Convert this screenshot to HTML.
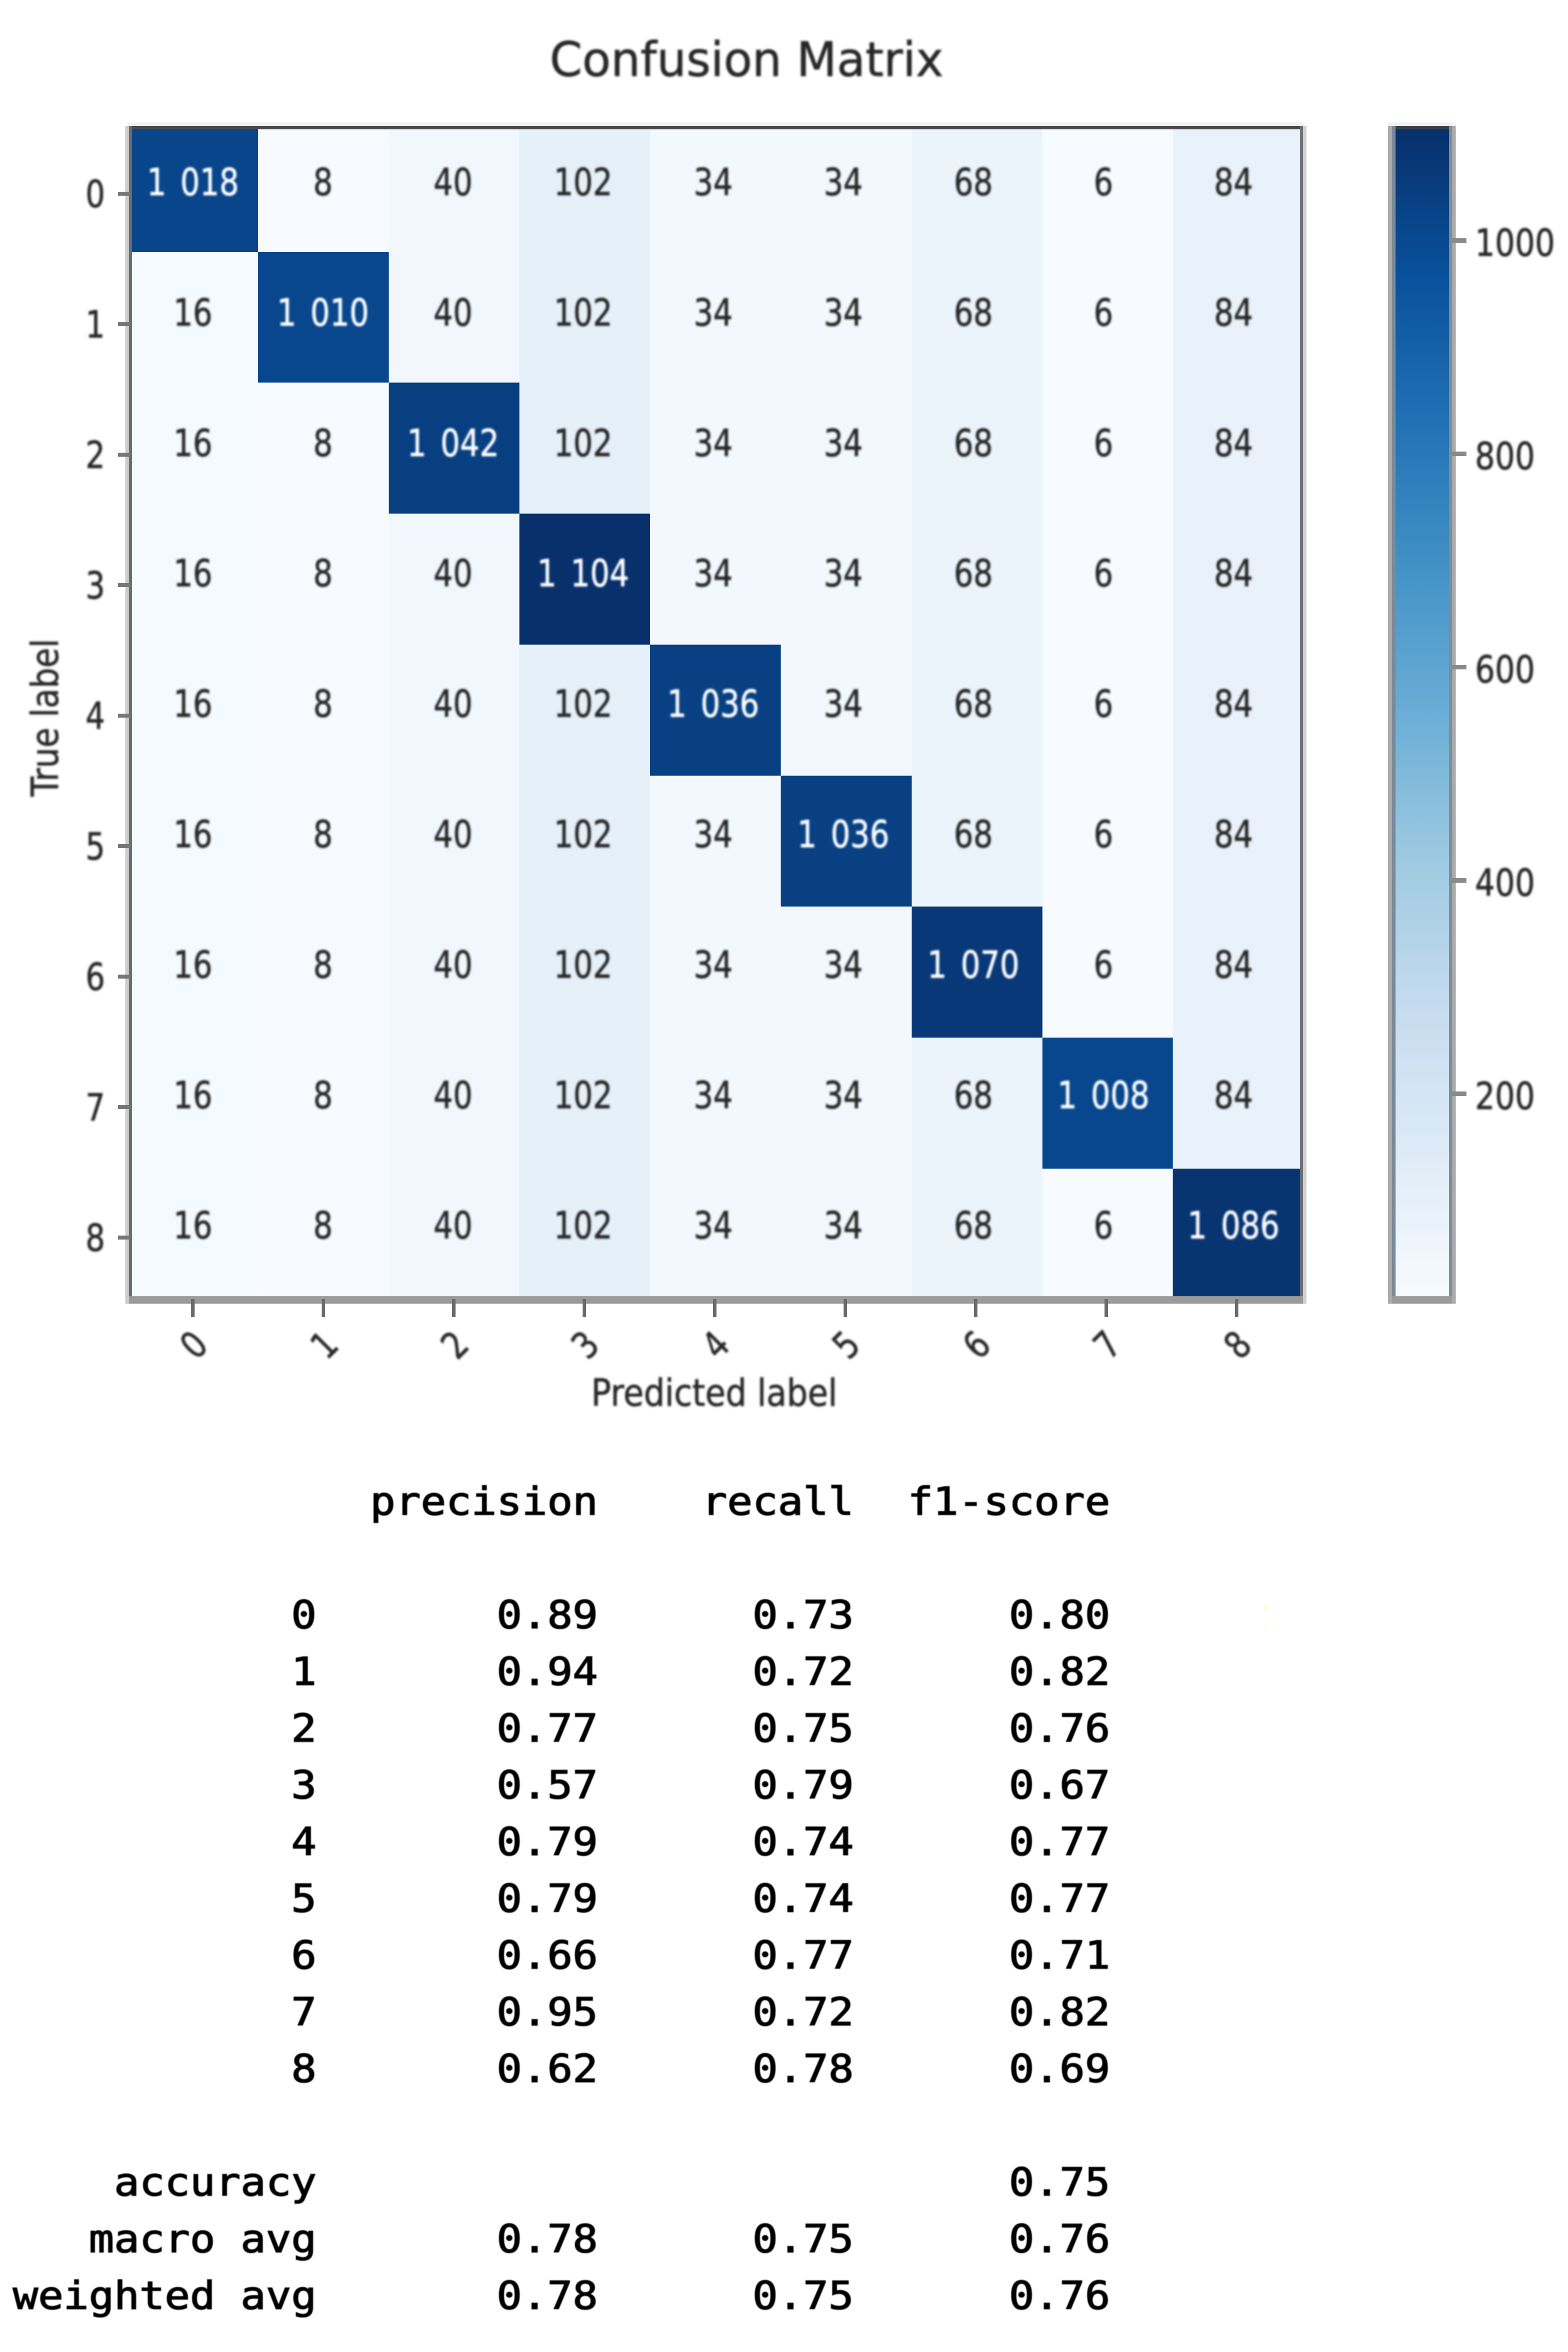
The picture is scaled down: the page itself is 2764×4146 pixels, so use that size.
<!DOCTYPE html>
<html lang="en">
<head>
<meta charset="utf-8">
<title>Confusion Matrix</title>
<style>
  html, body { margin: 0; padding: 0; background: #fff; }
  #figure { display: block; }
  .sans { font-family: "DejaVu Sans", "Liberation Sans", sans-serif; fill: #262626; stroke: #262626; stroke-width: 0.8px; }
  .mono { font-family: "DejaVu Sans Mono", "Liberation Mono", monospace; fill: #000; stroke: #000; stroke-width: 1.6px; }
</style>
</head>
<body>
<svg id="figure" xmlns="http://www.w3.org/2000/svg" width="2764" height="4146" viewBox="0 0 2764 4146">
  <defs>
    <filter id="soft" x="-5%" y="-5%" width="110%" height="110%"><feGaussianBlur stdDeviation="1.9"/></filter>
    <filter id="soft-table" x="-5%" y="-5%" width="110%" height="110%"><feGaussianBlur stdDeviation="0.8"/></filter>
    <clipPath id="plot-clip"><rect x="233" y="228" width="2059" height="2057"/></clipPath>
    <linearGradient id="cbar-gradient" gradientUnits="userSpaceOnUse" x1="0" x2="0" y1="0" y2="0"></linearGradient>
  </defs>
  <rect x="0" y="0" width="2764" height="4146" fill="#ffffff"/>
  <g id="cells" clip-path="url(#plot-clip)" shape-rendering="crispEdges"></g>

  <g id="spines" shape-rendering="crispEdges">
    <rect x="226" y="216" width="2072" height="6" fill="#f0f0f0"/>
    <rect x="227" y="222" width="2070" height="6" fill="#4a4a4a"/>
    <rect x="221" y="222" width="6" height="2076" fill="#cccccc"/>
    <rect x="227" y="222" width="6" height="2070" fill="#6a6a70"/>
    <rect x="2292" y="222" width="5" height="2070" fill="#6c7074"/>
    <rect x="2297" y="222" width="6" height="2076" fill="#cfcfcf"/>
    <rect x="227" y="2285" width="2070" height="13" fill="#9b9b9b"/>
  </g>

  <g id="ticks" shape-rendering="crispEdges"></g>

  <g id="cbar" shape-rendering="crispEdges">
    <rect x="2460" y="228" width="94" height="2057" fill="url(#cbar-gradient)"/>
    <rect x="2447" y="216" width="119" height="6" fill="#f0f0f0"/>
    <rect x="2454" y="222" width="106" height="6" fill="#3c4048"/>
    <rect x="2447" y="222" width="7" height="2076" fill="#ababab"/>
    <rect x="2454" y="222" width="6" height="2070" fill="#7b8a98"/>
    <rect x="2554" y="222" width="6" height="2070" fill="#808c98"/>
    <rect x="2560" y="222" width="6" height="2076" fill="#ababab"/>
    <rect x="2454" y="2285" width="106" height="13" fill="#9b9b9b"/>
  </g>

  <g id="soft-text" filter="url(#soft)">
    <text class="sans" x="969" y="134" font-size="84" textLength="694" lengthAdjust="spacingAndGlyphs">Confusion Matrix</text>
    <text class="sans" x="1042" y="2478" font-size="66" textLength="434" lengthAdjust="spacingAndGlyphs">Predicted label</text>
    <text class="sans" transform="translate(102,1404) rotate(-90)" x="0" y="0" font-size="66" textLength="278" lengthAdjust="spacingAndGlyphs">True label</text>
  </g>

  <g id="report" filter="url(#soft-table)"></g>

  <rect x="2228" y="2830" width="7" height="7" fill="#ffffc8"/>
  <rect x="2228" y="2867" width="7" height="7" fill="#ffffe6"/>
</svg>

<script>
// ---- confusion matrix values ----
const classLabels = ['0', '1', '2', '3', '4', '5', '6', '7', '8'];
const matrixRow0 = [1018, 8, 40, 102, 34, 34, 68, 6, 84];
const matrixRow1 = [16, 1010, 40, 102, 34, 34, 68, 6, 84];
const matrixRow2 = [16, 8, 1042, 102, 34, 34, 68, 6, 84];
const matrixRow3 = [16, 8, 40, 1104, 34, 34, 68, 6, 84];
const matrixRow4 = [16, 8, 40, 102, 1036, 34, 68, 6, 84];
const matrixRow5 = [16, 8, 40, 102, 34, 1036, 68, 6, 84];
const matrixRow6 = [16, 8, 40, 102, 34, 34, 1070, 6, 84];
const matrixRow7 = [16, 8, 40, 102, 34, 34, 68, 1008, 84];
const matrixRow8 = [16, 8, 40, 102, 34, 34, 68, 6, 1086];
const matrix = [matrixRow0, matrixRow1, matrixRow2, matrixRow3, matrixRow4, matrixRow5, matrixRow6, matrixRow7, matrixRow8];

// ---- colorbar ticks ----
const colorbarTicks = [1000, 800, 600, 400, 200];

// ---- classification report ----
const reportHeaders = ['precision', 'recall', 'f1-score'];
const reportLabels = ['0', '1', '2', '3', '4', '5', '6', '7', '8', '', 'accuracy', 'macro avg', 'weighted avg'];
const reportPrecision = ['0.89', '0.94', '0.77', '0.57', '0.79', '0.79', '0.66', '0.95', '0.62', '', '', '0.78', '0.78'];
const reportRecall = ['0.73', '0.72', '0.75', '0.79', '0.74', '0.74', '0.77', '0.72', '0.78', '', '', '0.75', '0.75'];
const reportF1 = ['0.80', '0.82', '0.76', '0.67', '0.77', '0.77', '0.71', '0.82', '0.69', '', '0.75', '0.76', '0.76'];

// ---- Blues colormap ----
const bluesStops = ['#f7fbff', '#deebf7', '#c6dbef', '#9ecae1', '#6baed6', '#4292c6', '#2171b5', '#08519c', '#08306b'];

const NS = 'http://www.w3.org/2000/svg';
const allValues = matrix.flat();
const vMin = Math.min.apply(null, allValues);
const vMax = Math.max.apply(null, allValues);

// axis functions
function cellX(i) { return 224.5 + 230.4 * i; }
function cellY(i) { return 213 + 230.86 * i; }
function textX(i) { return 340 + 229.3 * i; }
function textBaseline(i) { return 344 + 229.9 * i; }
function tickX(i) { return 340 + 230 * i; }
function tickY(i) { return 341 + 230 * i; }
function cbarY(v) { return 424 + (1000 - v) * 1.88; }
function reportBaseline(i) { return 2870 + 100 * i; }

function hexToRgb(h) {
  return [parseInt(h.slice(1, 3), 16), parseInt(h.slice(3, 5), 16), parseInt(h.slice(5, 7), 16)];
}
function blues(v) {
  const t = Math.max(0, Math.min(1, (v - vMin) / (vMax - vMin))) * (bluesStops.length - 1);
  const k = Math.min(bluesStops.length - 2, Math.floor(t));
  const f = t - k;
  const a = hexToRgb(bluesStops[k]);
  const b = hexToRgb(bluesStops[k + 1]);
  return 'rgb(' + a.map(function (c, n) { return Math.round(c + (b[n] - c) * f); }).join(',') + ')';
}
function formatCount(v) {
  const s = String(v);
  return s.length > 3 ? s.slice(0, s.length - 3) + '\u00a0' + s.slice(-3) : s;
}
function make(tag, attrs, parent, content) {
  const el = document.createElementNS(NS, tag);
  Object.keys(attrs).forEach(function (k) { el.setAttribute(k, attrs[k]); });
  if (content !== undefined) el.textContent = content;
  parent.appendChild(el);
  return el;
}

const cellsGroup = document.getElementById('cells');
const ticksGroup = document.getElementById('ticks');
const softText = document.getElementById('soft-text');
const reportGroup = document.getElementById('report');

// heatmap cells
matrix.forEach(function (row, r) {
  row.forEach(function (value, c) {
    const rect = make('rect', {
      x: cellX(c), y: cellY(r),
      width: cellX(c + 1) - cellX(c), height: cellY(r + 1) - cellY(r),
      fill: blues(value)
    }, cellsGroup);
    
    

    const light = value > (vMin + vMax) / 2;
    const label = make('text', {
      transform: 'translate(' + textX(c) + ',' + textBaseline(r) + ') scale(0.82,1)',
      'text-anchor': 'middle',
      'font-size': 66,
      'class': 'sans'
    }, softText, formatCount(value));
    label.style.wordSpacing = '9px';
    label.style.fill = light ? '#ffffff' : '#262626';
    label.style.stroke = light ? '#ffffff' : '#262626';
    
    
  });
});

// axis ticks and tick labels
classLabels.forEach(function (name, i) {
  const xt = make('rect', { x: tickX(i) - 3, y: 2290, width: 6, height: 32, fill: '#6a6a6a' }, ticksGroup);
  
  

  const yt = make('rect', { x: 208, y: tickY(i) - 3, width: 22, height: 7, fill: '#777777' }, ticksGroup);
  
  

  const xl = make('text', {
    transform: 'translate(' + (tickX(i) + 1) + ',2370) rotate(-45) scale(0.82,1) translate(0,24)',
    'text-anchor': 'middle',
    'font-size': 66,
    'class': 'sans'
  }, softText, name);
  
  

  const yl = make('text', {
    transform: 'translate(168,' + (tickY(i) + 24) + ') scale(0.82,1)',
    'text-anchor': 'middle',
    'font-size': 66,
    'class': 'sans'
  }, softText, name);
  
  
});

// colorbar
const gradient = document.getElementById('cbar-gradient');
gradient.setAttribute('y1', cbarY(vMax));
gradient.setAttribute('y2', cbarY(vMin));
bluesStops.forEach(function (color, i) {
  make('stop', { offset: i / (bluesStops.length - 1), 'stop-color': bluesStops[bluesStops.length - 1 - i] }, gradient);
});
const cbarGroup = document.getElementById('cbar');
colorbarTicks.forEach(function (v) {
  const t = make('rect', { x: 2560, y: cbarY(v) - 4, width: 25, height: 8, fill: '#8a8a8a' }, cbarGroup);
  
  

  const l = make('text', {
    transform: 'translate(2600,' + (cbarY(v) + 27) + ') scale(0.84,1)',
    'font-size': 66,
    'class': 'sans'
  }, softText, String(v));
  
  
});

// classification report
const reportColumnEnds = [1054, 1505, 1957];
const reportNameEnd = 558;
function reportText(str, endX, baseline, name) {
  if (!str) return;
  const t = make('text', {
    transform: 'translate(' + endX + ',' + baseline + ') scale(1.09,1)',
    'text-anchor': 'end',
    'font-size': 68,
    'class': 'mono'
  }, reportGroup, str);
  
  
}
reportHeaders.forEach(function (h, i) {
  reportText(h, reportColumnEnds[i], 2670, 'report-header');
});
reportLabels.forEach(function (name, i) {
  const y = reportBaseline(i);
  reportText(name, reportNameEnd, y, 'report-row-label');
  reportText(reportPrecision[i], reportColumnEnds[0], y, 'report-precision');
  reportText(reportRecall[i], reportColumnEnds[1], y, 'report-recall');
  reportText(reportF1[i], reportColumnEnds[2], y, 'report-f1-score');
});
</script>
</body>
</html>
